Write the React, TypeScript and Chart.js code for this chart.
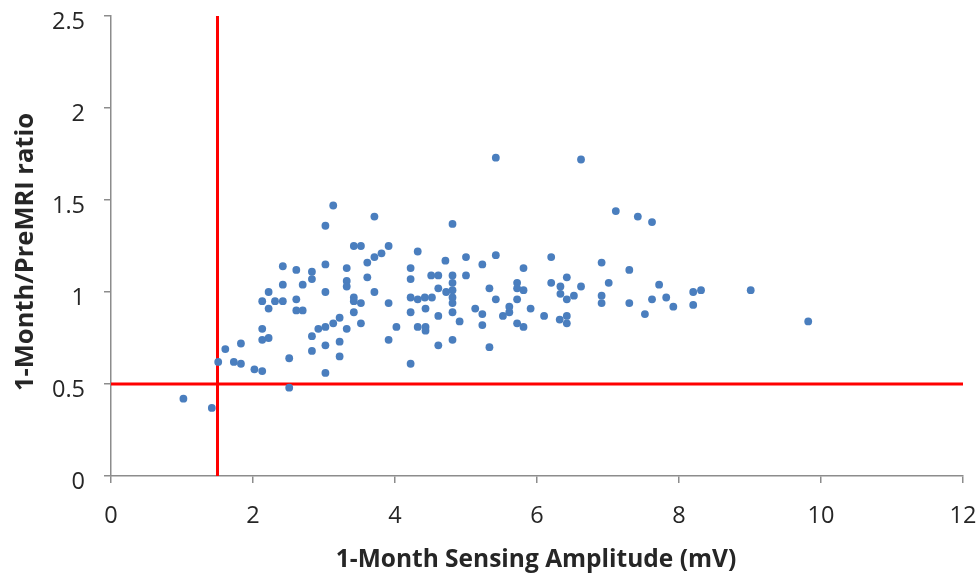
import React, { useEffect, useRef } from "react";
import { Chart, registerables } from "chart.js";

Chart.register(...registerables);

// 1-Month sensing amplitude (mV)
const amplitude: number[] = [
  1.02, 1.42, 1.51, 1.61, 1.73, 1.83, 1.83, 2.02, 2.13, 2.13,
  2.13, 2.22, 2.13, 2.22, 2.22, 2.31, 2.42, 2.42, 2.42, 2.51,
  2.51, 2.61, 2.61, 2.61, 2.7, 2.7, 2.83, 2.83, 2.83, 2.83,
  2.92, 3.02, 3.02, 3.02, 3.02, 3.02, 3.02, 3.13, 3.13, 3.22,
  3.22, 3.22, 3.32, 3.32, 3.32, 3.32, 3.42, 3.52, 3.42, 3.42,
  3.52, 3.42, 3.52, 3.61, 3.61, 3.71, 3.71, 3.71, 3.81, 3.91,
  3.91, 3.91, 4.02,
  4.22, 4.22, 4.32, 4.22, 4.32, 4.42, 4.52, 4.43, 4.22, 4.22,
  4.32, 4.43, 4.43, 4.51, 4.61, 4.61, 4.61, 4.61, 4.71, 4.72,
  4.81, 4.81, 4.81, 4.81, 4.81, 4.81, 4.81, 4.81, 4.91, 5.0,
  5.0, 5.13, 5.23, 5.23, 5.23, 5.33, 5.33, 5.42, 5.42, 5.42,
  5.52, 5.61, 5.61, 5.72, 5.72, 5.72, 5.72, 5.81, 5.81, 5.81,
  5.91, 6.1, 6.2, 6.2, 6.33, 6.33, 6.32, 6.42, 6.42, 6.42,
  6.42, 6.52, 6.62, 6.62, 6.91, 6.91, 6.91, 7.01, 7.11, 7.3,
  7.3, 7.42, 7.52, 7.62, 7.62, 7.72, 7.82, 7.92, 8.2, 8.31,
  8.2, 9.01, 9.82,
];

// 1-Month / PreMRI ratio
const ratio: number[] = [
  0.42, 0.37, 0.62, 0.69, 0.62, 0.61, 0.72, 0.58, 0.57, 0.8,
  0.74, 0.75, 0.95, 1.0, 0.91, 0.95, 0.95, 1.14, 1.04, 0.64,
  0.48, 1.12, 0.96, 0.9, 0.9, 1.04, 1.11, 1.07, 0.76, 0.68,
  0.8, 0.81, 0.71, 0.56, 1.0, 1.15, 1.36, 1.47, 0.83, 0.86,
  0.73, 0.65, 0.8, 1.13, 1.06, 1.03, 1.25, 1.25, 0.97, 0.95,
  0.94, 0.89, 0.83, 1.16, 1.08, 1.19, 1.41, 1.0, 1.21, 1.25,
  0.94, 0.74, 0.81,
  1.13, 1.07, 1.22, 0.97, 0.96, 0.97, 0.97, 0.91, 0.89, 0.61,
  0.81, 0.81, 0.79, 1.09, 1.09, 1.02, 0.87, 0.71, 1.17, 1.0,
  1.37, 1.09, 1.05, 1.01, 0.97, 0.94, 0.89, 0.74, 0.84, 1.19,
  1.09, 0.91, 1.15, 0.88, 0.82, 1.02, 0.7, 1.2, 0.96, 1.73,
  0.87, 0.92, 0.89, 1.05, 1.02, 0.96, 0.83, 1.13, 1.01, 0.81,
  0.91, 0.87, 1.19, 1.05, 1.03, 0.99, 0.85, 1.08, 0.96, 0.87,
  0.83, 0.98, 1.03, 1.72, 1.16, 0.98, 0.94, 1.05, 1.44, 1.12,
  0.94, 1.41, 0.88, 1.38, 0.96, 1.04, 0.97, 0.92, 1.0, 1.01,
  0.93, 1.01, 0.84,
];

// Reference thresholds
const amplitudeThreshold = 1.5;
const ratioThreshold = 0.5;

const xTicks: number[] = [0, 2, 4, 6, 8, 10, 12];
const yTicks: number[] = [0, 0.5, 1, 1.5, 2, 2.5];

const xTitle = "1-Month Sensing Amplitude (mV)";
const yTitle = "1-Month/PreMRI ratio";

const AXIS_GRAY = "#8c8c8c";
const TEXT = "#262626";

export default function App() {
  const canvasRef = useRef<HTMLCanvasElement | null>(null);

  useEffect(() => {
    document.body.style.margin = "0";
    const canvas = canvasRef.current;
    if (!canvas) return;

    const points = amplitude.map((a, i) => ({ x: a, y: ratio[i] }));
    const xMin = xTicks[0];
    const xMax = xTicks[xTicks.length - 1];
    const yMin = yTicks[0];
    const yMax = yTicks[yTicks.length - 1];

    const titlePlugin = {
      id: "axisTitles",
      afterDraw(chart: any) {
        const ctx = chart.ctx;
        ctx.save();
        ctx.fillStyle = TEXT;
        ctx.textAlign = "center";
        ctx.textBaseline = "alphabetic";
        ctx.font = 'bold 24.5px "Open Sans"';
        ctx.fillText(xTitle, 536, 567);
        ctx.font = 'bold 25.5px "Open Sans"';
        ctx.translate(33, 252);
        ctx.rotate(-Math.PI / 2);
        ctx.fillText(yTitle, 0, 0);
        ctx.restore();
      },
    };

    const chart = new Chart(canvas, {
      type: "scatter",
      data: {
        datasets: [
          {
            label: "Ratio",
            data: points,
            backgroundColor: "#4A7EBE",
            borderWidth: 0,
            pointRadius: 3.9,
            pointHoverRadius: 3.9,
          },
          {
            label: "Amplitude threshold",
            data: [
              { x: amplitudeThreshold, y: yMin },
              { x: amplitudeThreshold, y: yMax },
            ],
            showLine: true,
            borderColor: "#FF0000",
            borderWidth: 3,
            pointRadius: 0,
          },
          {
            label: "Ratio threshold",
            data: [
              { x: xMin, y: ratioThreshold },
              { x: xMax, y: ratioThreshold },
            ],
            showLine: true,
            borderColor: "#FF0000",
            borderWidth: 3,
            pointRadius: 0,
          },
        ],
      },
      options: {
        responsive: false,
        animation: false,
        layout: { padding: { left: 0, top: 16, right: 17, bottom: 0 } },
        plugins: {
          legend: { display: false },
          tooltip: { enabled: false },
        },
        scales: {
          x: {
            type: "linear",
            min: xMin,
            max: xMax,
            afterBuildTicks: (scale: any) => {
              scale.ticks = xTicks.map((v) => ({ value: v }));
            },
            afterFit: (scale: any) => {
              scale.height = 99;
              scale.paddingLeft = 0;
              scale.paddingRight = 0;
            },
            ticks: {
              callback: (v: any) => String(v),
              font: { family: '"Open Sans"', size: 23.5 },
              color: TEXT,
              padding: 19,
              maxRotation: 0,
            },
            grid: {
              drawOnChartArea: false,
              drawTicks: true,
              tickLength: 7,
              color: AXIS_GRAY,
              lineWidth: 1.5,
            },
            border: { display: true, color: AXIS_GRAY, width: 1.5 },
          },
          y: {
            type: "linear",
            min: yMin,
            max: yMax,
            afterBuildTicks: (scale: any) => {
              scale.ticks = yTicks.map((v) => ({ value: v }));
            },
            afterFit: (scale: any) => {
              scale.width = 111;
              scale.paddingTop = 0;
              scale.paddingBottom = 0;
            },
            ticks: {
              callback: (v: any) => String(v),
              font: { family: '"Open Sans"', size: 23.5 },
              color: TEXT,
              padding: 19,
              labelOffset: 6,
            },
            grid: {
              drawOnChartArea: false,
              drawTicks: true,
              tickLength: 7,
              color: AXIS_GRAY,
              lineWidth: 1.5,
            },
            border: { display: true, color: AXIS_GRAY, width: 1.5 },
          },
        },
      },
      plugins: [titlePlugin],
    });

    return () => {
      chart.destroy();
    };
  }, []);

  return (
    <div style={{ width: 980, height: 575, background: "#ffffff" }}>
      <canvas ref={canvasRef} width={980} height={575} />
    </div>
  );
}
